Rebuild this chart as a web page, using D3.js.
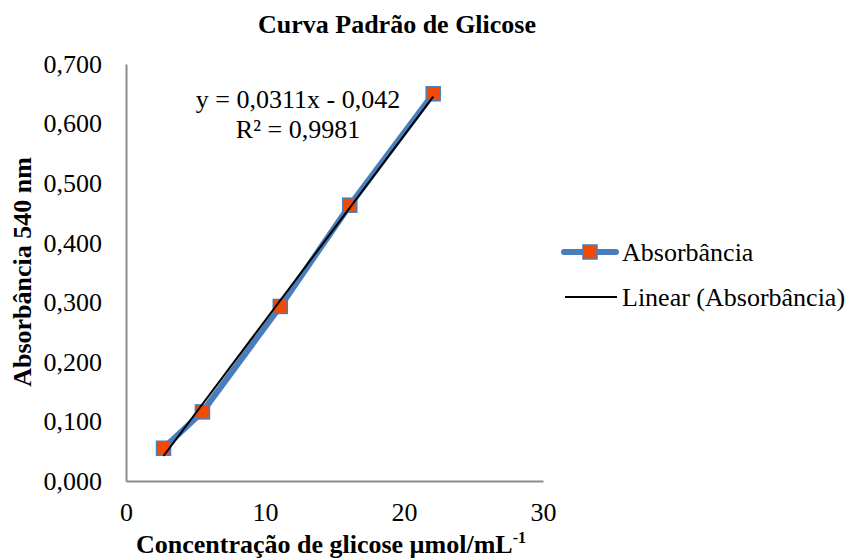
<!DOCTYPE html>
<html><head><meta charset="utf-8">
<script src="https://cdn.jsdelivr.net/npm/d3@7/dist/d3.min.js"></script>
<style>body{margin:0;background:#fff}svg{display:block}text{font-family:"Liberation Serif","Times New Roman",serif;fill:#000}</style>
</head><body><svg id="c" width="852" height="558"></svg>
<script>
const concentrations = [2.7, 5.5, 11.1, 16.1, 22.1];
const absorbance = [0.055, 0.116, 0.293, 0.463, 0.650];
const trendCoefficients = [0.0311, -0.042]; // slope, intercept
const xTicks = [0, 10, 20, 30];
const yTicks = [0, 0.1, 0.2, 0.3, 0.4, 0.5, 0.6, 0.7];
const yTickLabels = ["0,000","0,100","0,200","0,300","0,400","0,500","0,600","0,700"];
const titleText = "Curva Padrão de Glicose";
const yTitle = "Absorbância 540 nm";
const seriesName = "Absorbância";
const trendName = "Linear (Absorbância)";
const eqLines = ["y = 0,0311x - 0,042", "R² = 0,9981"];

const svg = d3.select("#c");
const x = d3.scaleLinear().domain([0, 30]).range([126, 543]);
const y = d3.scaleLinear().domain([0, 0.7]).range([481, 64]);
const blue = "#4A7EBB", orange = "#F04A05", axisCol = "#8C8C8C";

// title
svg.append("text").attr("x", 397).attr("y", 33).attr("text-anchor", "middle")
  .attr("font-size", 26).attr("font-weight", "bold").text(titleText);

// axes
const yAxis = d3.axisLeft(y).tickValues(yTicks).tickSize(0).tickPadding(24)
  .tickFormat((d, i) => yTickLabels[i]);
const gy = svg.append("g").attr("transform", "translate(126,0)").call(yAxis);
gy.select(".domain").attr("stroke", axisCol).attr("stroke-width", 2);
gy.selectAll("text").attr("font-size", 26).attr("font-family", "Liberation Serif").attr("fill", "#000");

const xAxis = d3.axisBottom(x).tickValues(xTicks).tickSize(0).tickPadding(22).tickFormat(d3.format("d"));
const gx = svg.append("g").attr("transform", "translate(0,481)").call(xAxis);
gx.select(".domain").attr("stroke", axisCol).attr("stroke-width", 2);
gx.selectAll("text").attr("font-size", 26).attr("font-family", "Liberation Serif").attr("fill", "#000");

// axis titles
svg.append("text").attr("transform", "translate(31,272) rotate(-90)").attr("text-anchor", "middle")
  .attr("font-size", 26).attr("font-weight", "bold").text(yTitle);
const xt = svg.append("text").attr("x", 331).attr("y", 553).attr("text-anchor", "middle")
  .attr("font-size", 26).attr("font-weight", "bold");
xt.append("tspan").text("Concentração de glicose µmol/mL");
xt.append("tspan").attr("dy", -10).attr("font-size", 16).text("-1");

// series line
const data = concentrations.map((c, i) => [c, absorbance[i]]);
svg.append("path").datum(data).attr("fill", "none").attr("stroke", blue).attr("stroke-width", 6)
  .attr("stroke-linejoin", "round").attr("stroke-linecap", "round")
  .attr("d", d3.line().x(d => x(d[0])).y(d => y(d[1])));
// markers
svg.selectAll("rect.m").data(data).join("rect").attr("class", "m")
  .attr("x", d => x(d[0]) - 7).attr("y", d => y(d[1]) - 7).attr("width", 14).attr("height", 14)
  .attr("fill", orange).attr("stroke", blue).attr("stroke-width", 1.5);
// trendline
const xmin = d3.min(concentrations), xmax = d3.max(concentrations);
const trend = [xmin, xmax].map(v => [v, trendCoefficients[0] * v + trendCoefficients[1]]);
svg.append("path").datum(trend).attr("fill", "none").attr("stroke", "#000").attr("stroke-width", 2)
  .attr("d", d3.line().x(d => x(d[0])).y(d => y(d[1])));

// equation
svg.selectAll("text.eq").data(eqLines).join("text").attr("class", "eq")
  .attr("x", 298).attr("y", (d, i) => 108 + i * 30).attr("text-anchor", "middle")
  .attr("font-size", 26).text(d => d);

// legend
const lg = svg.append("g");
lg.append("line").attr("x1", 564).attr("x2", 616).attr("y1", 252).attr("y2", 252)
  .attr("stroke", blue).attr("stroke-width", 6).attr("stroke-linecap", "round");
lg.append("rect").attr("x", 583).attr("y", 245).attr("width", 14).attr("height", 14)
  .attr("fill", orange).attr("stroke", blue).attr("stroke-width", 1.5);
lg.append("text").attr("x", 622).attr("y", 252).attr("dy", "0.35em").attr("font-size", 26).text(seriesName);
lg.append("line").attr("x1", 565).attr("x2", 617).attr("y1", 297).attr("y2", 297)
  .attr("stroke", "#000").attr("stroke-width", 2);
lg.append("text").attr("x", 622).attr("y", 297).attr("dy", "0.35em").attr("font-size", 26).text(trendName);
</script></body></html>
